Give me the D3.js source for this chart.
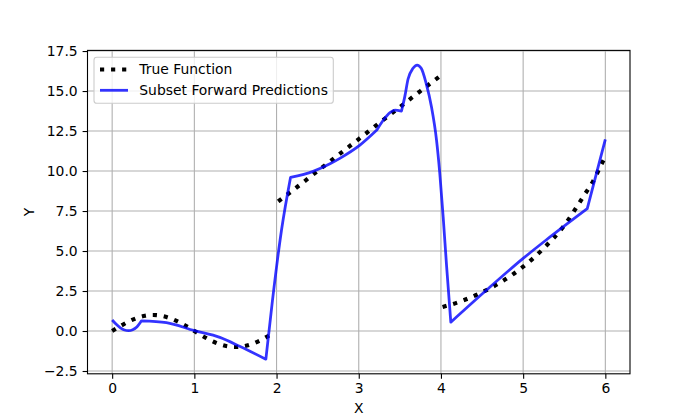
<!DOCTYPE html>
<html>
<head>
<meta charset="utf-8">
<script src="https://d3js.org/d3.v7.min.js"></script>
<style>
    body { margin: 0; background: #fff; }
    text { font-family: "DejaVu Sans", sans-serif; }
</style>
</head>
<body>
<div id="chart"></div>
<script>

// true function in three pieces
var trueX1 = [0, 0.1, 0.2, 0.3, 0.4, 0.5, 0.6, 0.7, 0.8, 0.9, 1.0, 1.1, 1.2, 1.3, 1.4, 1.5, 1.6, 1.7, 1.8, 1.9, 1.98];
var trueY1 = [0, 0.31, 0.59, 0.81, 0.95, 1.0, 0.95, 0.81, 0.59, 0.31, 0, -0.31, -0.59, -0.81, -0.95, -1.0, -0.95, -0.81, -0.59, -0.31, -0.06];
var trueX2 = [2.02, 2.25, 2.5, 2.75, 3.0, 3.25, 3.5, 3.75, 3.98];
var trueY2 = [8.1, 9.0, 10.0, 11.0, 12.0, 13.0, 14.0, 15.0, 15.9];
var trueX3 = [4.02, 4.25, 4.5, 4.75, 5.0, 5.25, 5.5, 5.75, 5.85, 5.95, 6.0];
var trueY3 = [1.5, 1.87, 2.42, 3.12, 4.02, 5.17, 6.6, 8.55, 9.35, 10.4, 10.9];

// subset forward predictions
var predX = [0, 0.05, 0.1, 0.15, 0.2, 0.25, 0.3, 0.357, 0.66, 1.0, 1.31, 1.55, 1.87, 1.95, 2.06, 2.17,
    2.445, 2.65, 2.77, 3.01, 3.22, 3.30, 3.38, 3.44, 3.52, 3.56, 3.60, 3.66, 3.71, 3.76, 3.82, 3.885,
    3.946, 3.986, 4.027, 4.068, 4.12, 4.555, 5.0, 5.28, 5.78, 6.0];
var predY = [0.69, 0.42, 0.2, 0.06, 0.02, 0.08, 0.25, 0.64, 0.52, 0.02, -0.4, -0.95, -1.76, 1.9, 6.3, 9.6,
    9.98, 10.45, 10.79, 11.6, 12.56, 13.19, 13.65, 13.81, 13.75, 14.65, 15.75, 16.42, 16.62, 16.42, 15.48, 14.0,
    11.94, 9.85, 7.14, 4.1, 0.55, 2.56, 4.54, 5.69, 7.65, 11.98];
// indexes in predX where the prediction line has a sharp corner
var predKinks = [0, 7, 12, 15, 20, 24, 36, 40, 41];

var xTicks = [0, 1, 2, 3, 4, 5, 6];
var yTicks = [-2.5, 0, 2.5, 5, 7.5, 10, 12.5, 15, 17.5];
var legendLabels = ["True Function", "Subset Forward Predictions"];

//set margins
var margin = {top: 50.4, right: 70, bottom: 46.2, left: 87.5};
var width = 700 - margin.left - margin.right;
var height = 420 - margin.top - margin.bottom;

var svg = d3.select("#chart")
    .append("svg")
    .attr("width", 700)
    .attr("height", 420);

var g = svg.append("g")
    .attr("transform", "translate(" + margin.left + "," + margin.top + ")");

var x = d3.scaleLinear().domain([-0.3, 6.3]).range([0, width]);
var y = d3.scaleLinear().domain([-2.675, 17.54]).range([height, 0]);

//grid
g.selectAll(".gx").data(xTicks).enter().append("line")
    .attr("x1", function(d) { return x(d); })
    .attr("x2", function(d) { return x(d); })
    .attr("y1", 0).attr("y2", height)
    .attr("stroke", "#b0b0b0").attr("stroke-width", 1.1);
g.selectAll(".gy").data(yTicks).enter().append("line")
    .attr("y1", function(d) { return y(d); })
    .attr("y2", function(d) { return y(d); })
    .attr("x1", 0).attr("x2", width)
    .attr("stroke", "#b0b0b0").attr("stroke-width", 1.1);

//axes
var xAxis = g.append("g")
    .attr("transform", "translate(0," + height + ")")
    .call(d3.axisBottom(x).tickValues(xTicks).tickSize(4.9).tickPadding(4.9).tickFormat(d3.format("d")));
var yAxis = g.append("g")
    .call(d3.axisLeft(y).tickValues(yTicks).tickSize(4.9).tickPadding(4.9).tickFormat(d3.format(".1f")));

[xAxis, yAxis].forEach(function(a) {
    a.select(".domain").remove();
    a.selectAll("line").attr("stroke", "#000").attr("stroke-width", 1.1);
    a.selectAll("text")
        .attr("fill", "#000")
        .style("font-size", "13.9px")
        .style("font-family", "'DejaVu Sans', sans-serif");
});

//lines
function pairs(xs, ys) {
    return xs.map(function(d, i) { return [d, ys[i]]; });
}

var smooth = d3.line()
    .x(function(d) { return x(d[0]); })
    .y(function(d) { return y(d[1]); })
    .curve(d3.curveMonotoneX);

[pairs(trueX1, trueY1), pairs(trueX2, trueY2), pairs(trueX3, trueY3)].forEach(function(seg) {
    g.append("path")
        .attr("d", smooth(seg))
        .attr("fill", "none")
        .attr("stroke", "#000")
        .attr("stroke-width", 4.17)
        .attr("stroke-dasharray", "4.17,6.88");
});

// prediction: smooth between corners, joined into one path
var pred = pairs(predX, predY);
var predPath = "";
for (var k = 0; k < predKinks.length - 1; k++) {
    var piece = smooth(pred.slice(predKinks[k], predKinks[k + 1] + 1));
    predPath += (k === 0) ? piece : piece.replace(/^M/, "L");
}

g.append("path")
    .attr("d", predPath)
    .attr("fill", "none")
    .attr("stroke", "blue")
    .attr("stroke-opacity", 0.8)
    .attr("stroke-width", 2.78)
    .attr("stroke-linejoin", "round");

//frame
g.append("rect")
    .attr("width", width).attr("height", height)
    .attr("fill", "none").attr("stroke", "#000").attr("stroke-width", 1.1);

//axis labels
svg.append("text")
    .attr("x", margin.left + width / 2).attr("y", 413)
    .attr("text-anchor", "middle").style("font-size", "13.9px")
    .text("X");
svg.append("text")
    .attr("transform", "translate(34," + (margin.top + height / 2) + ") rotate(-90)")
    .attr("text-anchor", "middle").style("font-size", "13.9px")
    .text("Y");

//legend
var legend = svg.append("g");
legend.append("rect")
    .attr("x", 94).attr("y", 57.3).attr("width", 239.3).attr("height", 46)
    .attr("rx", 2.8)
    .attr("fill", "#fff").attr("fill-opacity", 0.8)
    .attr("stroke", "#cccccc").attr("stroke-width", 1.1);
legend.append("line")
    .attr("x1", 100).attr("x2", 128).attr("y1", 69.5).attr("y2", 69.5)
    .attr("stroke", "#000").attr("stroke-width", 4.17)
    .attr("stroke-dasharray", "4.17,6.88");
legend.append("line")
    .attr("x1", 100).attr("x2", 128).attr("y1", 90.3).attr("y2", 90.3)
    .attr("stroke", "blue").attr("stroke-opacity", 0.8).attr("stroke-width", 2.78);
legend.selectAll(".lt").data(legendLabels).enter().append("text")
    .attr("x", 139.3)
    .attr("y", function(d, i) { return 74.4 + i * 20.8; })
    .style("font-size", "13.9px")
    .text(function(d) { return d; });

</script>
</body>
</html>
